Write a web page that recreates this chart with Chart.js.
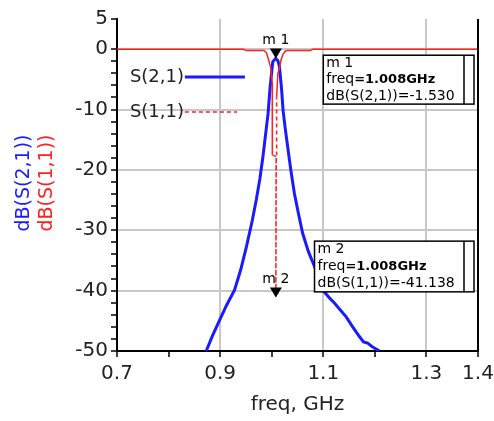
<!DOCTYPE html>
<html>
<head>
<meta charset="utf-8">
<script src="https://cdn.jsdelivr.net/npm/chart.js@4.4.0/dist/chart.umd.min.js"></script>
<style>
  html, body { margin: 0; padding: 0; background: #fff; }
  #wrap { width: 494px; height: 421px; }
</style>
</head>
<body>
<div id="wrap"><canvas id="myChart" width="494" height="421"></canvas></div>
<script>
// S(2,1) transmission
const freqS21 = [0.873, 0.885, 0.899, 0.912, 0.928, 0.94, 0.951, 0.962, 0.970, 0.977, 0.983, 0.989, 0.993, 0.997, 1.002, 1.0075, 1.012, 1.015, 1.019, 1.022, 1.026, 1.031, 1.037, 1.044, 1.052, 1.060, 1.071, 1.083, 1.092, 1.102, 1.112, 1.122, 1.133, 1.144, 1.157, 1.170, 1.178, 1.186, 1.195, 1.209];
const dbS21 = [-50, -47.5, -44.9, -42.5, -39.9, -36.5, -32.7, -28.5, -25, -21.5, -17.8, -13.5, -10.6, -6.2, -2.1, -1.53, -1.9, -2.9, -6.5, -10.1, -13, -16.2, -20, -23.9, -27.3, -30.5, -33.5, -36, -38.2, -40.2, -41.2, -42.1, -43.2, -44.3, -46, -47.6, -48.5, -48.7, -49.3, -50];

// S(1,1) reflection
const freqS11 = [0.70, 0.945, 0.95, 0.985, 0.99, 0.994, 0.998, 1.001, 1.0012, 1.0085, 1.008, 1.0088, 1.0095, 1.012, 1.015, 1.018, 1.022, 1.027, 1.031, 1.075, 1.08, 1.40];
const dbS11 = [0, 0, -0.2, -0.2, -0.6, -1.8, -3.0, -5.6, -17.5, -17.8, -41.1, -17.8, -8, -4, -3.2, -1.8, -0.8, -0.3, -0.2, -0.2, 0, 0];

const xTicks = [0.7, 0.8, 0.9, 1.0, 1.1, 1.2, 1.3, 1.4];
const xLabeled = [0.7, 0.9, 1.1, 1.3, 1.4];
const xGrid = [0.9, 1.1, 1.3];
const yTicks = [5, 0, -2, -4, -6, -8, -10, -12, -14, -16, -18, -20, -22, -24, -26, -28, -30, -32, -34, -36, -38, -40, -42, -44, -46, -48, -50];
const yLabeled = [5, 0, -10, -20, -30, -40, -50];
const yGrid = [0, -10, -20, -30, -40];

const markers = [
  { name: "m1", freq: 1.008, value: -1.53, trace: "dB(S(2,1))", text: "-1.530" },
  { name: "m2", freq: 1.008, value: -41.138, trace: "dB(S(1,1))", text: "-41.138" },
];

const hasVal = (list, v) => list.some((l) => Math.abs(l - v) < 1e-6);
const FONT = "'DejaVu Sans', Verdana, sans-serif";

const extras = {
  id: "extras",
  afterDatasetsDraw(chart) {
    const { ctx, chartArea: a, scales } = chart;
    const xs = scales.x, ys = scales.y;
    ctx.save();

    // right frame line
    ctx.strokeStyle = "#000";
    ctx.lineWidth = 2;
    ctx.beginPath();
    ctx.moveTo(a.right, a.top);
    ctx.lineTo(a.right, a.bottom);
    ctx.stroke();

    // legend inside the plot
    ctx.font = "18px " + FONT;
    ctx.textBaseline = "middle";
    ctx.textAlign = "left";
    const lx = xs.getPixelForValue(0.725);
    const l1 = ys.getPixelForValue(-4.6), l2 = ys.getPixelForValue(-10.4);
    ctx.fillStyle = "#222";
    ctx.fillText("S(2,1)", lx, l1);
    ctx.fillText("S(1,1)", lx, l2);
    ctx.strokeStyle = "#1a1aff";
    ctx.lineWidth = 3;
    ctx.beginPath();
    ctx.moveTo(lx + 55, l1);
    ctx.lineTo(lx + 115, l1);
    ctx.stroke();
    ctx.strokeStyle = "#ff2020";
    ctx.lineWidth = 1.5;
    ctx.setLineDash([4, 3]);
    ctx.beginPath();
    ctx.moveTo(lx + 55, l2);
    ctx.lineTo(lx + 107, l2);
    ctx.stroke();
    ctx.setLineDash([]);

    // marker triangles
    markers.forEach((m) => {
      const px = xs.getPixelForValue(m.freq), py = ys.getPixelForValue(m.value);
      ctx.fillStyle = "#000";
      ctx.beginPath();
      ctx.moveTo(px, py);
      ctx.lineTo(px - 6, py - 10);
      ctx.lineTo(px + 6, py - 10);
      ctx.closePath();
      ctx.fill();
      ctx.font = "14px " + FONT;
      ctx.textAlign = "center";
      ctx.fillText(m.name.replace("m", "m "), px, py - 18);
    });

    // marker readout boxes
    const boxes = [
      { m: markers[0], left: xs.getPixelForValue(1.1), top: ys.getPixelForValue(-1), bottom: ys.getPixelForValue(-9.1) },
      { m: markers[1], left: xs.getPixelForValue(1.083), top: ys.getPixelForValue(-31.8), bottom: ys.getPixelForValue(-40.2) },
    ];
    boxes.forEach((b) => {
      const right = a.right - 4;
      ctx.fillStyle = "#fff";
      ctx.fillRect(b.left, b.top, right - b.left, b.bottom - b.top);
      ctx.strokeStyle = "#000";
      ctx.lineWidth = 1.5;
      ctx.strokeRect(b.left, b.top, right - b.left, b.bottom - b.top);
      ctx.beginPath();
      ctx.moveTo(right - 10, b.top);
      ctx.lineTo(right - 10, b.bottom);
      ctx.stroke();
      const tx = b.left + 3;
      const h = (b.bottom - b.top) / 3;
      ctx.fillStyle = "#000";
      ctx.textAlign = "left";
      ctx.textBaseline = "middle";
      ctx.font = "14px " + FONT;
      ctx.fillText(b.m.name.replace("m", "m "), tx, b.top + h * 0.5);
      ctx.fillText("freq", tx, b.top + h * 1.5);
      const w = ctx.measureText("freq").width;
      ctx.font = "bold 13px " + FONT;
      ctx.fillText("=" + b.m.freq.toFixed(3) + "GHz", tx + w, b.top + h * 1.5);
      ctx.font = "14px " + FONT;
      ctx.fillText(b.m.trace + "=" + b.m.text, tx, b.top + h * 2.5);
    });

    // two-coloured y axis title
    ctx.font = "19px " + FONT;
    ctx.textAlign = "center";
    ctx.textBaseline = "middle";
    const cy = 183;
    [["dB(S(2,1))", "#1a1aff", 24], ["dB(S(1,1))", "#ff2020", 47]].forEach(([t, c, x]) => {
      ctx.save();
      ctx.translate(x, cy);
      ctx.rotate(-Math.PI / 2);
      ctx.fillStyle = c;
      ctx.fillText(t, 0, 0);
      ctx.restore();
    });
    ctx.restore();
  },
};

const ctx = document.getElementById("myChart").getContext("2d");
new Chart(ctx, {
  type: "line",
  data: {
    datasets: [
      {
        label: "dB(S(1,1))",
        data: freqS11.map((f, i) => ({ x: f, y: dbS11[i] })),
        borderColor: "#ff2020",
        borderWidth: 1.5,
        pointRadius: 0,
        tension: 0,
        segment: {
          borderDash: (c) => (c.p0.parsed.y < -17.6 || c.p1.parsed.y < -17.6 ? [4, 3] : undefined),
        },
      },
      {
        label: "dB(S(2,1))",
        data: freqS21.map((f, i) => ({ x: f, y: dbS21[i] })),
        borderColor: "#1a1aff",
        borderWidth: 3,
        pointRadius: 0,
        tension: 0,
      },
    ],
  },
  options: {
    responsive: false,
    animation: false,
    layout: { padding: { top: 19, right: 16, left: 0, bottom: 0 } },
    plugins: { legend: { display: false }, tooltip: { enabled: false } },
    scales: {
      x: {
        type: "linear",
        min: 0.7,
        max: 1.4,
        afterBuildTicks: (s) => { s.ticks = xTicks.map((v) => ({ value: v })); },
        afterFit: (s) => { s.height = 70; s.paddingRight = 0; s.paddingLeft = 0; },
        ticks: {
          autoSkip: false,
          maxRotation: 0,
          padding: 5,
          color: "#222",
          font: { size: 20, family: FONT },
          callback: (v) => (hasVal(xLabeled, v) ? v.toFixed(1) : ""),
        },
        grid: {
          color: (c) => (c.tick && hasVal(xGrid, c.tick.value) ? "#c8c8c8" : "rgba(0,0,0,0)"),
          lineWidth: 2,
          tickColor: "#000",
          tickLength: 6,
          tickWidth: 1.5,
        },
        border: { color: "#000", width: 2 },
        title: {
          display: true,
          text: "freq, GHz",
          color: "#222",
          font: { size: 20, family: FONT },
          padding: { top: 0, bottom: 4 },
        },
      },
      y: {
        type: "linear",
        min: -50,
        max: 5,
        afterBuildTicks: (s) => { s.ticks = yTicks.map((v) => ({ value: v })); },
        afterFit: (s) => { s.width = 117; s.paddingTop = 0; s.paddingBottom = 0; },
        ticks: {
          autoSkip: false,
          padding: 3,
          color: "#222",
          font: { size: 20, family: FONT },
          callback: (v) => (hasVal(yLabeled, v) ? String(v) : ""),
        },
        grid: {
          color: (c) => (c.tick && hasVal(yGrid, c.tick.value) ? "#c8c8c8" : "rgba(0,0,0,0)"),
          lineWidth: 2,
          tickColor: "#000",
          tickLength: 6,
          tickWidth: 1.5,
        },
        border: { color: "#000", width: 2 },
      },
    },
  },
  plugins: [extras],
});
</script>
</body>
</html>
